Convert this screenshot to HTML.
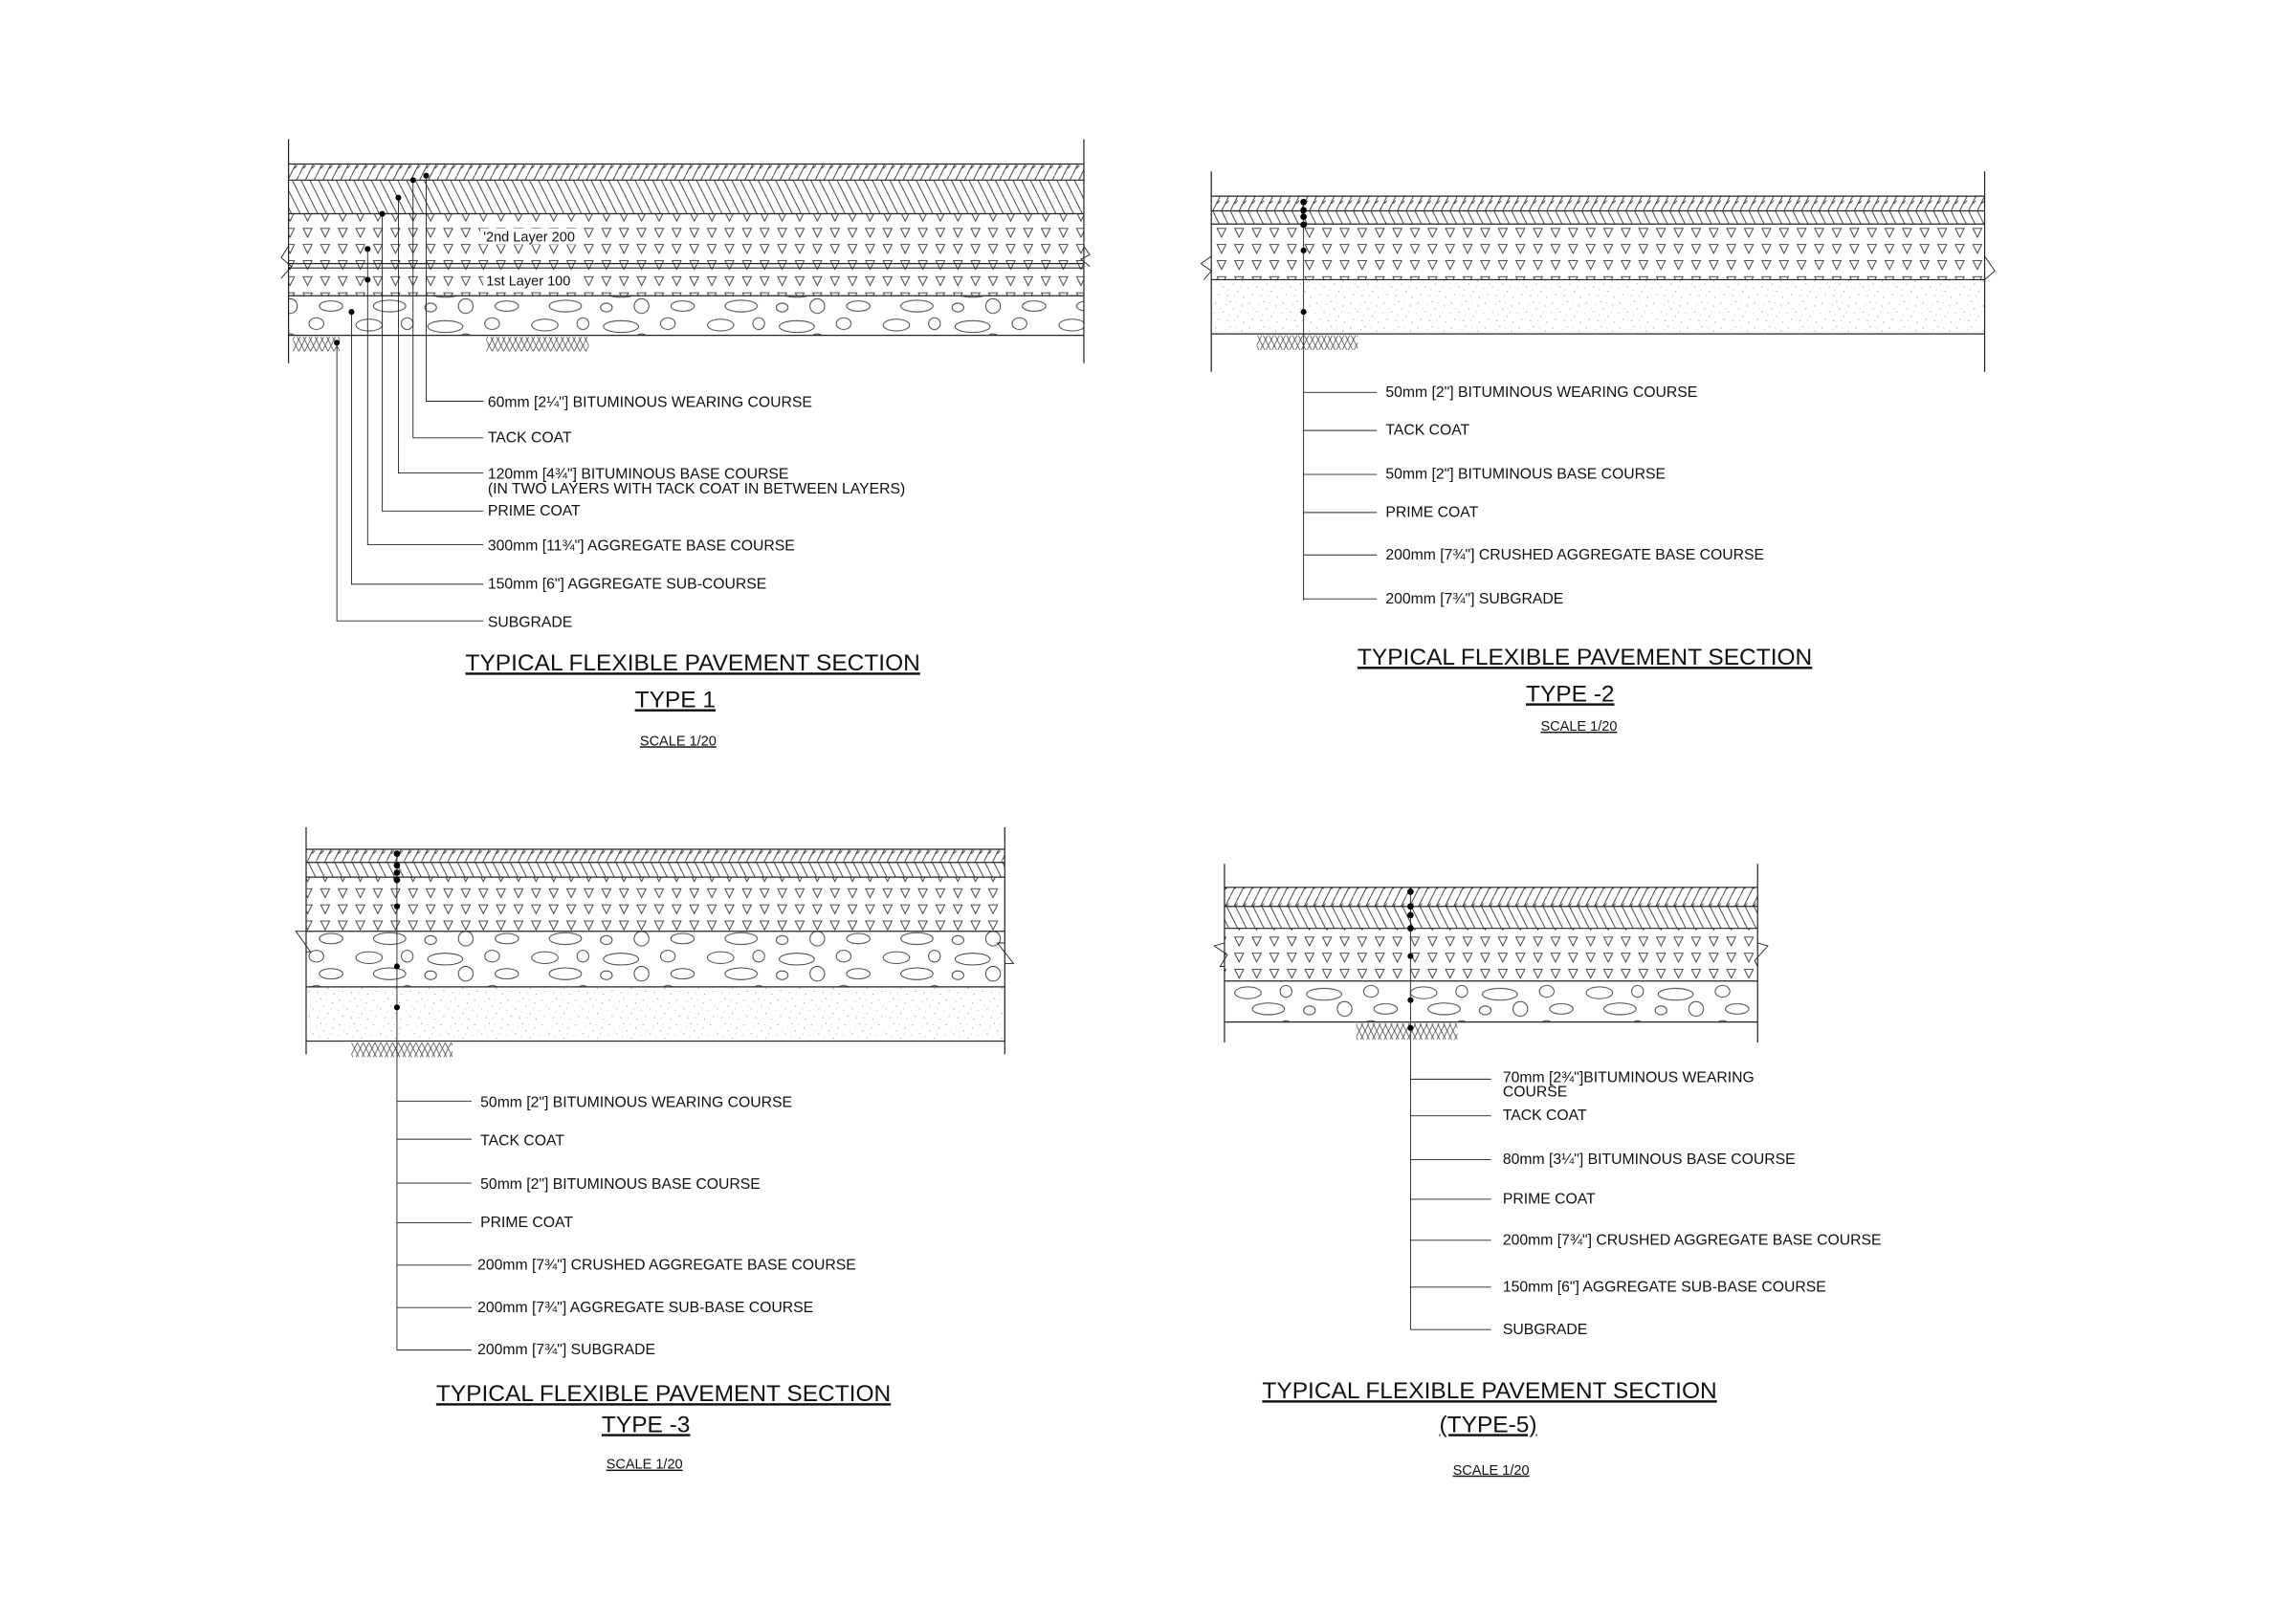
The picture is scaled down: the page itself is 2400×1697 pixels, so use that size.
<!DOCTYPE html>
<html><head><meta charset="utf-8"><style>
html,body{margin:0;padding:0;background:#fff;}
svg{display:block;}
text{font-family:"Liberation Sans",Arial,sans-serif;fill:#111;}
.l{font-size:10.3px;}
.t{font-size:16px;}
.s{font-size:9.5px;}
</style></head><body>
<svg width="2400" height="1697" viewBox="0 0 1567.5 1108.4" preserveAspectRatio="xMinYMin meet" xmlns="http://www.w3.org/2000/svg">
<defs>
<pattern id="h1" width="12" height="12" patternUnits="userSpaceOnUse">
<path d="M0,12 L6,0 M6,12 L12,0 M3,7 L5,5 M9,7 L11,5" stroke="#333" stroke-width="0.6" fill="none"/>
</pattern>
<pattern id="h2" width="6" height="12" patternUnits="userSpaceOnUse">
<path d="M0,0 L6,12 M-6,0 L0,12 M6,0 L12,12" stroke="#333" stroke-width="0.6" fill="none"/>
</pattern>
<pattern id="tri" width="12" height="11" patternUnits="userSpaceOnUse">
<path d="M3,2 L9,2 L6,8 Z" stroke="#333" stroke-width="0.6" fill="none"/>
</pattern>
<pattern id="ov" width="120" height="24" patternUnits="userSpaceOnUse">
<g stroke="#333" stroke-width="0.6" fill="none">
<ellipse cx="12" cy="6" rx="9" ry="4"/><ellipse cx="38" cy="5" rx="4" ry="4"/><ellipse cx="64" cy="7" rx="12" ry="4"/><ellipse cx="96" cy="5" rx="5" ry="4"/>
<ellipse cx="26" cy="17" rx="11" ry="4"/><ellipse cx="54" cy="18" rx="4" ry="3"/><ellipse cx="78" cy="17" rx="5" ry="5"/><ellipse cx="106" cy="17" rx="8" ry="3.5"/>
</g></pattern>
<pattern id="sp" width="23" height="17" patternUnits="userSpaceOnUse">
<g fill="#999"><circle cx="2" cy="3" r="0.4"/><circle cx="7" cy="9" r="0.4"/><circle cx="12" cy="2" r="0.4"/><circle cx="17" cy="12" r="0.4"/><circle cx="20" cy="5" r="0.4"/><circle cx="4" cy="14" r="0.4"/><circle cx="10" cy="15" r="0.4"/><circle cx="14" cy="7" r="0.4"/><circle cx="21" cy="16" r="0.4"/><circle cx="5" cy="7" r="0.3"/><circle cx="9" cy="4" r="0.3"/><circle cx="15" cy="15" r="0.3"/><circle cx="19" cy="9" r="0.3"/><circle cx="1" cy="10" r="0.3"/><circle cx="11" cy="11" r="0.3"/><circle cx="16" cy="3" r="0.3"/></g>
</pattern>
<pattern id="sg" width="8" height="8" patternUnits="userSpaceOnUse">
<path d="M0,8 L4,0 M4,8 L8,0 M0,0 L4,8 M4,0 L8,8" stroke="#444" stroke-width="0.5" fill="none"/>
</pattern>
</defs>

<g stroke="#222" stroke-width="0.8" fill="none">
<!-- TYPE 1 -->
<rect x="197" y="112" width="543" height="11" fill="url(#h1)" stroke="none"/>
<rect x="197" y="123" width="543" height="23" fill="url(#h2)" stroke="none"/>
<rect x="197" y="146" width="543" height="56" fill="url(#tri)" stroke="none"/>
<rect x="197" y="202" width="543" height="27" fill="url(#ov)" stroke="none"/>
<path d="M197,95 V248 M740,95 V248 M197,112 H740 M197,123 H740 M197,146 H740 M197,180 H740 M197,183 H740 M197,202 H740 M197,229 H740"/>
<path d="M197,168 L192,176 L199,182 L192,190" stroke-width="0.6"/>
<path d="M740,168 L744,174 L738,177 L744,182" stroke-width="0.6"/>
<rect x="200" y="230" width="32" height="10" fill="url(#sg)" stroke="none"/>
<rect x="332" y="230" width="70" height="10" fill="url(#sg)" stroke="none"/>
<path d="M291,120 V274 H330 M282,123 V299 H330 M272,135 V323 H330 M261,146 V349 H330 M251,170 V372 H330 M240,213 V399 H330 M230,234 V424 H330" stroke-width="0.6"/>
<g fill="#000" stroke="none"><circle cx="291" cy="120" r="2"/><circle cx="282" cy="123" r="2"/><circle cx="272" cy="135" r="2"/><circle cx="261" cy="146" r="2"/><circle cx="251" cy="170" r="2"/><circle cx="251" cy="191" r="2"/><circle cx="240" cy="213" r="2"/><circle cx="230" cy="234" r="2"/></g>

<!-- TYPE 2 -->
<rect x="827" y="134" width="528" height="10" fill="url(#h1)" stroke="none"/>
<rect x="827" y="144" width="528" height="9" fill="url(#h2)" stroke="none"/>
<rect x="827" y="153" width="528" height="38" fill="url(#tri)" stroke="none"/>
<rect x="827" y="191" width="528" height="37" fill="url(#sp)" stroke="none"/>
<path d="M827,117 V254 M1355,117 V254 M827,134 H1355 M827,144 H1355 M827,153 H1355 M827,191 H1355 M827,228 H1355"/>
<path d="M827,175 L820,180 L827,185 L822,191" stroke-width="0.6"/>
<path d="M1355,175 L1362,185 L1355,191" stroke-width="0.6"/>
<rect x="858" y="229" width="69" height="10" fill="url(#sg)" stroke="none"/>
<path d="M890,137 V410 M890,268 H940 M890,294 H940 M890,324 H940 M890,350 H940 M890,379 H940 M890,409 H940" stroke-width="0.6"/>
<g fill="#000" stroke="none"><circle cx="890" cy="138" r="2.2"/><circle cx="890" cy="143.5" r="2.2"/><circle cx="890" cy="148" r="2.2"/><circle cx="890" cy="153.5" r="2.2"/><circle cx="890" cy="171" r="2"/><circle cx="890" cy="213" r="2"/></g>

<!-- TYPE 3 -->
<rect x="209" y="580" width="477" height="9" fill="url(#h1)" stroke="none"/>
<rect x="209" y="589" width="477" height="10" fill="url(#h2)" stroke="none"/>
<rect x="209" y="599" width="477" height="37" fill="url(#tri)" stroke="none"/>
<rect x="209" y="636" width="477" height="38" fill="url(#ov)" stroke="none"/>
<rect x="209" y="674" width="477" height="37" fill="url(#sp)" stroke="none"/>
<path d="M209,565 V720 M686,565 V720 M209,580 H686 M209,589 H686 M209,599 H686 M209,636 H686 M209,674 H686 M209,711 H686"/>
<path d="M209,636 L202,636 L212,650 L209,650" stroke-width="0.6"/>
<path d="M686,644 L681,644 L692,658 L686,658" stroke-width="0.6"/>
<rect x="240" y="712" width="69" height="10" fill="url(#sg)" stroke="none"/>
<path d="M271,582 V922 M271,752 H322 M271,778 H322 M271,808 H322 M271,835 H322 M271,864 H322 M271,893 H322 M271,922 H322" stroke-width="0.6"/>
<g fill="#000" stroke="none"><circle cx="271" cy="583" r="2.2"/><circle cx="271" cy="591" r="2.2"/><circle cx="271" cy="596" r="2.2"/><circle cx="271" cy="601" r="2.2"/><circle cx="271" cy="619" r="2"/><circle cx="271" cy="660" r="2"/><circle cx="271" cy="688" r="2"/></g>

<!-- TYPE 5 -->
<rect x="836" y="606" width="364" height="13" fill="url(#h1)" stroke="none"/>
<rect x="836" y="619" width="364" height="15" fill="url(#h2)" stroke="none"/>
<rect x="836" y="634" width="364" height="36" fill="url(#tri)" stroke="none"/>
<rect x="836" y="670" width="364" height="28" fill="url(#ov)" stroke="none"/>
<path d="M836,590 V712 M1200,590 V712 M836,606 H1200 M836,619 H1200 M836,634 H1200 M836,670 H1200 M836,698 H1200"/>
<path d="M836,644 L829,646 L838,652 L833,660 L836,660" stroke-width="0.6"/>
<path d="M1200,644 L1207,646 L1198,656 L1200,660" stroke-width="0.6"/>
<rect x="926" y="699" width="69" height="11" fill="url(#sg)" stroke="none"/>
<path d="M963,606 V908 M963,737 H1018 M963,762 H1018 M963,792 H1018 M963,819 H1018 M963,847 H1018 M963,879 H1018 M963,908 H1018" stroke-width="0.6"/>
<g fill="#000" stroke="none"><circle cx="963" cy="609" r="2.2"/><circle cx="963" cy="619" r="2.2"/><circle cx="963" cy="625" r="2.2"/><circle cx="963" cy="634" r="2.2"/><circle cx="963" cy="653" r="2"/><circle cx="963" cy="683" r="2"/><circle cx="963" cy="702" r="2"/></g>
</g>

<!-- layer labels inside type1 -->
<rect x="328" y="156" width="68" height="11" fill="#fff"/>
<rect x="330" y="186" width="66" height="11" fill="#fff"/>
<text class="l" x="330" y="165" style="font-size:9.5px">'2nd Layer 200</text>
<text class="l" x="332" y="195" style="font-size:9.5px">1st Layer 100</text>

<!-- TYPE 1 labels -->
<text class="l" x="333" y="278">60mm [2¼"] BITUMINOUS WEARING COURSE</text>
<text class="l" x="333" y="302">TACK COAT</text>
<text class="l" x="333" y="327">120mm [4¾"] BITUMINOUS BASE COURSE</text>
<text class="l" x="333" y="337">(IN TWO LAYERS WITH TACK COAT IN BETWEEN LAYERS)</text>
<text class="l" x="333" y="352">PRIME COAT</text>
<text class="l" x="333" y="376">300mm [11¾"] AGGREGATE BASE COURSE</text>
<text class="l" x="333" y="402">150mm [6"] AGGREGATE SUB-COURSE</text>
<text class="l" x="333" y="428">SUBGRADE</text>
<text class="t" x="473" y="458" text-anchor="middle" text-decoration="underline">TYPICAL FLEXIBLE PAVEMENT SECTION</text>
<text class="t" x="461" y="483" text-anchor="middle" text-decoration="underline">TYPE 1</text>
<text class="s" x="463" y="509" text-anchor="middle" text-decoration="underline">SCALE 1/20</text>

<!-- TYPE 2 labels -->
<text class="l" x="946" y="271">50mm [2"] BITUMINOUS WEARING COURSE</text>
<text class="l" x="946" y="297">TACK COAT</text>
<text class="l" x="946" y="327">50mm [2"] BITUMINOUS BASE COURSE</text>
<text class="l" x="946" y="353">PRIME COAT</text>
<text class="l" x="946" y="382">200mm [7¾"] CRUSHED AGGREGATE BASE COURSE</text>
<text class="l" x="946" y="412">200mm [7¾"] SUBGRADE</text>
<text class="t" x="1082" y="454" text-anchor="middle" text-decoration="underline">TYPICAL FLEXIBLE PAVEMENT SECTION</text>
<text class="t" x="1072" y="479" text-anchor="middle" text-decoration="underline">TYPE -2</text>
<text class="s" x="1078" y="499" text-anchor="middle" text-decoration="underline">SCALE 1/20</text>

<!-- TYPE 3 labels -->
<text class="l" x="328" y="756">50mm [2"] BITUMINOUS WEARING COURSE</text>
<text class="l" x="328" y="782">TACK COAT</text>
<text class="l" x="328" y="812">50mm [2"] BITUMINOUS BASE COURSE</text>
<text class="l" x="328" y="838">PRIME COAT</text>
<text class="l" x="326" y="867">200mm [7¾"] CRUSHED AGGREGATE BASE COURSE</text>
<text class="l" x="326" y="896">200mm [7¾"] AGGREGATE SUB-BASE COURSE</text>
<text class="l" x="326" y="925">200mm [7¾"] SUBGRADE</text>
<text class="t" x="453" y="957" text-anchor="middle" text-decoration="underline">TYPICAL FLEXIBLE PAVEMENT SECTION</text>
<text class="t" x="441" y="978" text-anchor="middle" text-decoration="underline">TYPE -3</text>
<text class="s" x="440" y="1003" text-anchor="middle" text-decoration="underline">SCALE 1/20</text>

<!-- TYPE 5 labels -->
<text class="l" x="1026" y="739">70mm [2¾"]BITUMINOUS WEARING</text>
<text class="l" x="1026" y="749">COURSE</text>
<text class="l" x="1026" y="765">TACK COAT</text>
<text class="l" x="1026" y="795">80mm [3¼"] BITUMINOUS BASE COURSE</text>
<text class="l" x="1026" y="822">PRIME COAT</text>
<text class="l" x="1026" y="850">200mm [7¾"] CRUSHED AGGREGATE BASE COURSE</text>
<text class="l" x="1026" y="882">150mm [6"] AGGREGATE SUB-BASE COURSE</text>
<text class="l" x="1026" y="911">SUBGRADE</text>
<text class="t" x="1017" y="955" text-anchor="middle" text-decoration="underline">TYPICAL FLEXIBLE PAVEMENT SECTION</text>
<text class="t" x="1016" y="978" text-anchor="middle" text-decoration="underline">(TYPE-5)</text>
<text class="s" x="1018" y="1007" text-anchor="middle" text-decoration="underline">SCALE 1/20</text>
</svg>
</body></html>
